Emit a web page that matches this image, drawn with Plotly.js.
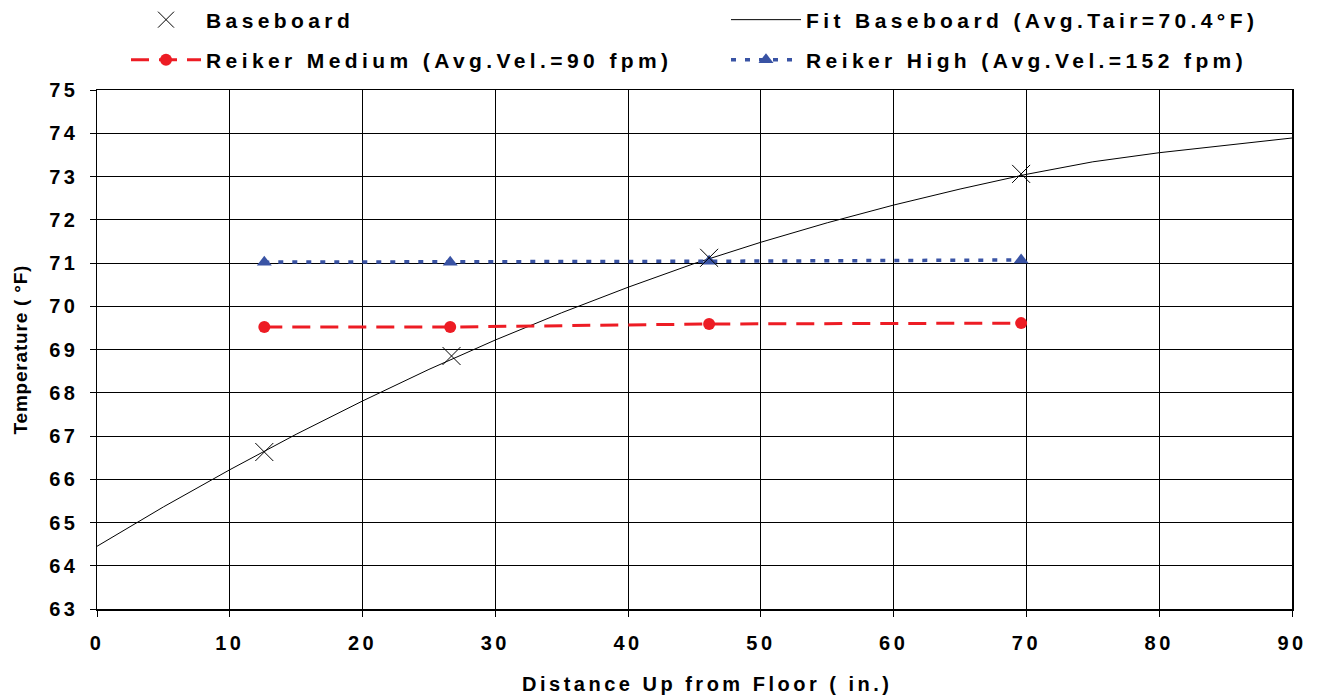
<!DOCTYPE html>
<html>
<head>
<meta charset="utf-8">
<script src="https://cdn.plot.ly/plotly-3.0.1.min.js"></script>
<style>
html,body{margin:0;padding:0;background:#fff;}
#chart{width:1317px;height:700px;}
svg text{letter-spacing:4.4px;}
.xtick text,.ytick text{letter-spacing:3.5px;}
g.annotation[data-index="0"] text{letter-spacing:3.5px;}
g.annotation[data-index="1"] text{letter-spacing:0.8px;}
</style>
</head>
<body>
<div id="chart"></div>
<script>
// Measured baseboard points
const baseX = [12.6, 26.7, 46.1, 69.6];
const baseY = [66.63, 68.85, 71.12, 73.06];
// Fit curve
const fitX = [0, 5, 10, 15, 20, 25, 30, 35, 40, 45, 50, 55, 60, 65, 70, 75, 80, 85, 90];
const fitY = [64.45, 65.36, 66.22, 67.04, 67.81, 68.54, 69.22, 69.85, 70.44, 70.99, 71.48, 71.93, 72.34, 72.71, 73.05, 73.34, 73.55, 73.72, 73.89];
// Reiker Medium
const medX = [12.6, 26.6, 46.1, 69.6];
const medY = [69.52, 69.52, 69.59, 69.61];
// Reiker High
const highX = [12.6, 26.6, 46.1, 69.6];
const highY = [71.02, 71.02, 71.04, 71.07];

const xTicks = [0, 10, 20, 30, 40, 50, 60, 70, 80, 90];
const yTicks = [63, 64, 65, 66, 67, 68, 69, 70, 71, 72, 73, 74, 75];

const xTitle = 'Distance Up from Floor ( in.)';
const yTitle = 'Temperature ( °F)';

const FONT = '"Liberation Sans", Arial, sans-serif';
const RED = '#ED1C24';
const BLUE = '#3953A4';

const traces = [
  {x: fitX, y: fitY, mode: 'lines', name: 'Fit Baseboard (Avg.Tair=70.4°F)',
   line: {color: '#000', width: 1}, legend: 'legend2'},
  {x: medX, y: medY, mode: 'lines+markers', name: 'Reiker Medium (Avg.Vel.=90 fpm)',
   line: {color: RED, width: 3, dash: '18px,10px'},
   marker: {symbol: 'circle', size: 12, color: RED}, legend: 'legend3'},
  {x: highX, y: highY, mode: 'lines+markers', name: 'Reiker High (Avg.Vel.=152 fpm)',
   line: {color: BLUE, width: 3.5, dash: '5px,9px'},
   marker: {symbol: 'triangle-up', size: 13, color: BLUE}, legend: 'legend4'},
  {x: baseX, y: baseY, mode: 'markers', name: 'Baseboard',
   marker: {symbol: 'x-thin-open', size: 18, color: '#000', line: {color: '#000', width: 1}}, legend: 'legend'}
];

function leg(xpx, ypx) {
  return {
    xref: 'container', yref: 'container',
    x: xpx / 1317, y: 1 - ypx / 700,
    xanchor: 'left', yanchor: 'middle',
    bgcolor: 'rgba(0,0,0,0)', borderwidth: 0,
    itemwidth: 70,
    font: {family: FONT, size: 21, color: '#000', weight: 'bold'}
  };
}

const layout = {
  width: 1317, height: 700,
  paper_bgcolor: '#fff', plot_bgcolor: '#fff',
  margin: {l: 97, r: 25, t: 90, b: 91, autoexpand: false},
  showlegend: true,
  legend: leg(126, 20),
  legend2: leg(726, 20),
  legend3: leg(126, 60),
  legend4: leg(726, 60),
  xaxis: {
    range: [0, 90], tickvals: xTicks, ticktext: xTicks.map(String),
    showgrid: true, gridcolor: '#000', gridwidth: 1,
    showline: true, linecolor: '#000', linewidth: 1.5, mirror: true,
    ticks: 'outside', ticklen: 6, tickcolor: '#000', tickwidth: 1,
    zeroline: false, ticklabelstandoff: 9, automargin: false,
    tickfont: {family: FONT, size: 20, color: '#000', weight: 'bold'}
  },
  yaxis: {
    range: [63, 75], tickvals: yTicks, ticktext: yTicks.map(String),
    showgrid: true, gridcolor: '#000', gridwidth: 1,
    showline: true, linecolor: '#000', linewidth: 1.5, mirror: true,
    ticks: 'outside', ticklen: 6, tickcolor: '#000', tickwidth: 1,
    zeroline: false, automargin: false, ticklabelstandoff: 7,
    tickfont: {family: FONT, size: 20, color: '#000', weight: 'bold'}
  },
  annotations: [
    {text: xTitle, xref: 'paper', yref: 'paper', x: 0.5105, y: -0.1445,
     xanchor: 'center', yanchor: 'middle', showarrow: false,
     font: {family: FONT, size: 20, color: '#000', weight: 'bold'}},
    {text: yTitle, xref: 'paper', yref: 'paper', x: -0.0644, y: 0.499,
     xanchor: 'center', yanchor: 'middle', showarrow: false, textangle: -90,
     font: {family: FONT, size: 19, color: '#000', weight: 'bold'}}
  ]
};

Plotly.newPlot('chart', traces, layout, {displayModeBar: false, staticPlot: true});
</script>
</body>
</html>
